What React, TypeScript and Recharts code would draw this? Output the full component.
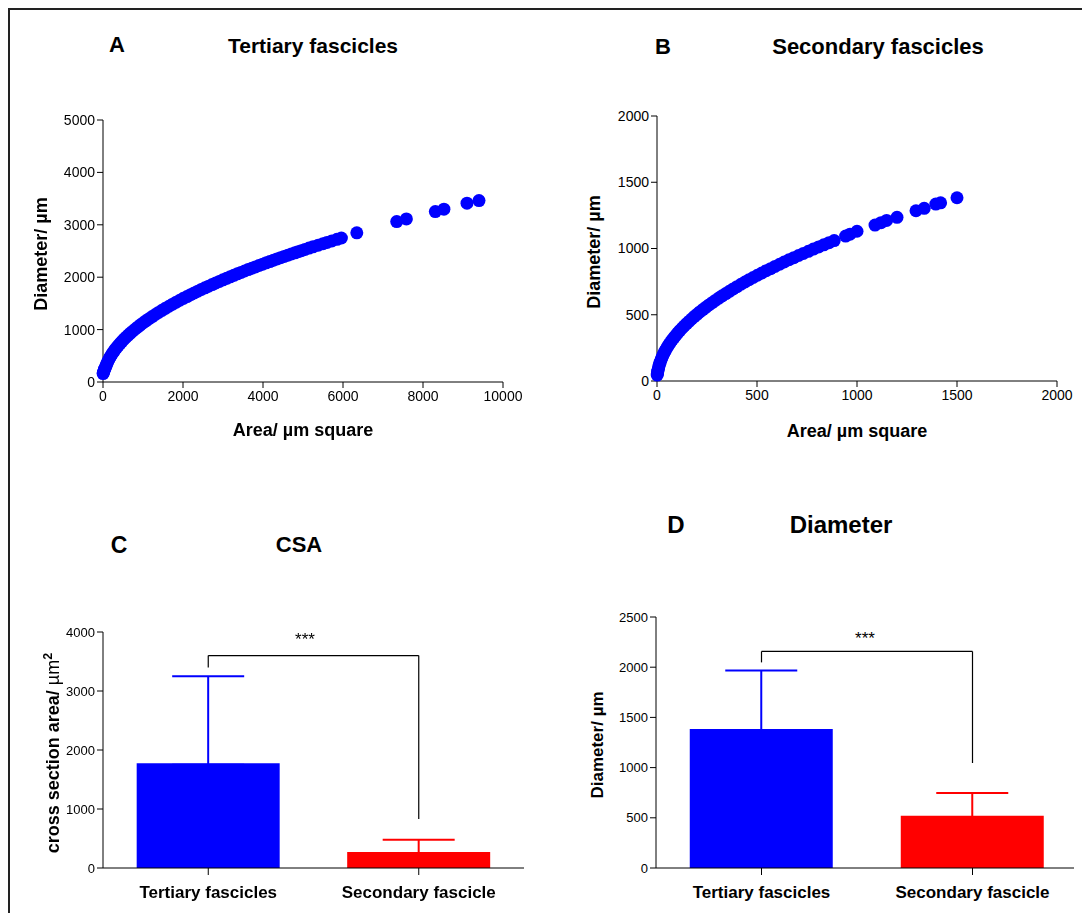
import React, { useEffect } from "react";
import { ScatterChart, Scatter, XAxis, YAxis, BarChart, Bar, Cell, ErrorBar, ReferenceLine } from "recharts";

// Panel A: tertiary fascicles (area vs diameter)
const tertiaryArea = [
  2, 8, 15, 25, 35, 50, 65, 80, 100, 120, 145, 170, 200, 230, 265, 300, 340, 380, 425, 470, 520, 570, 625, 680,
  740, 800, 865, 930, 1000, 1075, 1150, 1230, 1310, 1390, 1475, 1560, 1650, 1740, 1830, 1920, 2010, 2100, 2190,
  2280, 2370, 2460, 2550, 2640, 2730, 2820, 2910, 3000, 3090, 3180, 3270, 3360, 3450, 3540, 3630, 3720, 3810,
  3900, 3990, 4080, 4170, 4260, 4350, 4440, 4530, 4620, 4710, 4800, 4880, 4960, 5050, 5150, 5250, 5380, 5500,
  5600, 5720, 5850, 5960, 6345, 7343, 7585, 8308, 8523, 9100, 9400,
];
const tertiaryDiameter = [
  160, 175, 190, 215, 240, 262, 287, 318, 356, 390, 429, 464, 503, 540, 580, 617, 656, 694, 734, 772, 812, 850,
  890, 928, 968, 1007, 1047, 1086, 1126, 1167, 1207, 1249, 1288, 1327, 1367, 1406, 1446, 1485, 1523, 1560, 1596,
  1631, 1666, 1700, 1733, 1766, 1798, 1829, 1860, 1891, 1920, 1950, 1979, 2008, 2036, 2064, 2091, 2118, 2145,
  2171, 2197, 2223, 2249, 2274, 2299, 2324, 2348, 2372, 2396, 2420, 2443, 2466, 2487, 2507, 2530, 2555, 2579,
  2611, 2640, 2664, 2692, 2723, 2748, 2846, 3061, 3113, 3252, 3298, 3412, 3462,
];

// Panel B: secondary fascicles
const secondaryArea = [
  1, 2, 3, 4, 6, 8, 10, 13, 16, 20, 24, 29, 34, 40, 46, 53, 60, 68, 76, 85, 94, 104, 114, 125, 136, 148, 160, 173,
  186, 200, 214, 229, 244, 260, 276, 292, 309, 326, 344, 362, 381, 400, 420, 440, 460, 481, 502, 524, 546, 568,
  590, 613, 636, 660, 684, 708, 732, 757, 782, 808, 834, 860, 886, 943, 965, 1000, 1090, 1120, 1148, 1200, 1295,
  1336, 1394, 1418, 1500,
];
const secondaryDiameter = [
  45, 55, 65, 75, 87, 100, 113, 128, 142, 159, 174, 192, 208, 225, 241, 259, 276, 294, 310, 328, 345, 363, 380,
  398, 415, 433, 450, 468, 486, 503, 521, 539, 556, 574, 591, 608, 626, 643, 660, 677, 695, 712, 730, 747, 764,
  781, 798, 815, 832, 848, 865, 881, 898, 915, 931, 947, 963, 979, 996, 1012, 1028, 1044, 1060, 1094, 1108, 1130,
  1177, 1195, 1212, 1235, 1285, 1303, 1335, 1345, 1383,
];

const tertiaryXTicks = [0, 2000, 4000, 6000, 8000, 10000];
const tertiaryYTicks = [0, 1000, 2000, 3000, 4000, 5000];
const secondaryXTicks = [0, 500, 1000, 1500, 2000];
const secondaryYTicks = [0, 500, 1000, 1500, 2000];

// Panels C and D: mean + SD
const groups = ["Tertiary fascicles", "Secondary fascicle"];
const barColors = ["#0000FF", "#FF0000"];
const csaMean = [1775, 270];
const csaSd = [1476, 208];
const csaTicks = [0, 1000, 2000, 3000, 4000];
const csaBracket = [3600, 3400, 830]; // top, left leg end, right leg end
const diamMean = [1384, 521];
const diamSd = [584, 226];
const diamTicks = [0, 500, 1000, 1500, 2000, 2500];
const diamBracket = [2157, 2048, 1046];

const zip = (xs: number[], ys: number[]) => xs.map((area, i) => ({ area, diameter: ys[i] }));
const tertiaryData = zip(tertiaryArea, tertiaryDiameter);
const secondaryData = zip(secondaryArea, secondaryDiameter);

// the small lower bound keeps the lower cap of the whisker tucked inside the bar
const barData = (mean: number[], sd: number[], tuck: number) =>
  groups.map((name, i) => ({
    name,
    mean: mean[i],
    errBlue: i === 0 ? [tuck, sd[i]] : undefined,
    errRed: i === 1 ? [tuck, sd[i]] : undefined,
  }));
const csaData = barData(csaMean, csaSd, 25);
const diamData = barData(diamMean, diamSd, 15);

const Dot = (p: any) => <circle cx={p.cx} cy={p.cy} r={6.5} fill="#0000FF" />;

function Txt({ x, y, size, rotate, weight = 700, children }: any) {
  return (
    <div
      style={{
        position: "absolute", left: x, top: y, fontSize: size, fontWeight: weight, lineHeight: 1, whiteSpace: "nowrap",
        transform: `translate(-50%, -50%)${rotate ? " rotate(-90deg)" : ""}`,
      }}
    >
      {children}
    </div>
  );
}

function ScatterPanel({ data, xMax, yMax, xTicks, yTicks, width, height, left, right }: any) {
  return (
    <ScatterChart width={width} height={height} margin={{ top: 20, right, left, bottom: 5 }}>
      <XAxis type="number" dataKey="area" domain={[0, xMax]} ticks={xTicks} interval={0} height={30} tickSize={6} tickMargin={3}
        stroke="#000" tick={{ fill: "#000", fontSize: 14 }} />
      <YAxis type="number" dataKey="diameter" domain={[0, yMax]} ticks={yTicks} interval={0} width={60} tickSize={6} tickMargin={2}
        stroke="#000" tick={{ fill: "#000", fontSize: 14 }} />
      <Scatter data={data} shape={Dot} isAnimationActive={false} />
    </ScatterChart>
  );
}

function BarPanel({ data, yMax, ticks, bracket, width, height, top, left }: any) {
  const seg = (a: number, b: number, ya: number, yb: number) => (
    <ReferenceLine segment={[{ x: groups[a], y: ya }, { x: groups[b], y: yb }]} stroke="#000" strokeWidth={1.2} ifOverflow="visible" />
  );
  return (
    <BarChart width={width} height={height} data={data} margin={{ top, right: 2, left, bottom: 0 }} barCategoryGap="16%">
      <XAxis dataKey="name" height={36} tickSize={7} tickMargin={11} interval={0} stroke="#000"
        tick={{ fill: "#000", fontSize: 17, fontWeight: 700 }} />
      <YAxis domain={[0, yMax]} ticks={ticks} interval={0} width={60} tickSize={6} tickMargin={2} stroke="#000"
        tick={{ fill: "#000", fontSize: 13 }} />
      <Bar dataKey="mean" isAnimationActive={false}>
        {data.map((_: any, i: number) => <Cell key={i} fill={barColors[i]} />)}
        <ErrorBar dataKey="errBlue" direction="y" width={36} stroke={barColors[0]} strokeWidth={2} />
        <ErrorBar dataKey="errRed" direction="y" width={36} stroke={barColors[1]} strokeWidth={2} />
      </Bar>
      {seg(0, 1, bracket[0], bracket[0])}
      {seg(0, 0, bracket[0], bracket[1])}
      {seg(1, 1, bracket[0], bracket[2])}
    </BarChart>
  );
}

export default function App() {
  useEffect(() => {
    document.documentElement.style.overflow = "hidden";
    document.body.style.overflow = "hidden";
  }, []);
  return (
    <div style={{ position: "relative", width: 1066, height: 895, fontFamily: '"Liberation Sans", Arial, sans-serif', color: "#000" }}>
      <div style={{ position: "fixed", left: 8, top: 8, width: 1074, height: 2, background: "#222" }} />
      <div style={{ position: "fixed", left: 8, top: 8, width: 2, height: 905, background: "#222" }} />

      {/* A */}
      <div style={{ position: "absolute", left: 0, top: 92 }}>
        <ScatterPanel data={tertiaryData} xMax={10000} yMax={5000} xTicks={tertiaryXTicks} yTicks={tertiaryYTicks} width={530} height={317} left={35} right={35} />
      </div>
      <Txt x={109} y={37} size={22}>A</Txt>
      <Txt x={305} y={37} size={21}>Tertiary fascicles</Txt>
      <Txt x={33} y={246} size={18} rotate>Diameter/ µm</Txt>
      <Txt x={295} y={422} size={18}>Area/ µm square</Txt>

      {/* B */}
      <div style={{ position: "absolute", left: 552, top: 88 }}>
        <ScatterPanel data={secondaryData} xMax={2000} yMax={2000} xTicks={secondaryXTicks} yTicks={secondaryYTicks} width={522} height={320} left={37} right={25} />
      </div>
      <Txt x={655} y={39} size={22}>B</Txt>
      <Txt x={870} y={39} size={22}>Secondary fascicles</Txt>
      <Txt x={586} y={244} size={18} rotate>Diameter/ µm</Txt>
      <Txt x={849} y={423} size={18}>Area/ µm square</Txt>

      {/* C */}
      <div style={{ position: "absolute", left: 0, top: 603 }}>
        <BarPanel data={csaData} yMax={4000} ticks={csaTicks} bracket={csaBracket} width={518} height={293} top={21} left={35} />
      </div>
      <Txt x={111} y={537} size={23}>C</Txt>
      <Txt x={291} y={537} size={22}>CSA</Txt>
      <Txt x={297} y={631} size={17} weight={400}>***</Txt>
      <Txt x={44} y={745} size={18} rotate>
        cross section area/ <span style={{ fontWeight: 400 }}>µm</span><span style={{ fontSize: "0.7em", verticalAlign: "0.6em" }}>2</span>
      </Txt>

      {/* D */}
      <div style={{ position: "absolute", left: 552, top: 589 }}>
        <BarPanel data={diamData} yMax={2500} ticks={diamTicks} bracket={diamBracket} width={520} height={307} top={20} left={36} />
      </div>
      <Txt x={668} y={517} size={24}>D</Txt>
      <Txt x={833} y={517} size={24}>Diameter</Txt>
      <Txt x={857} y={630} size={17} weight={400}>***</Txt>
      <Txt x={589} y={737} size={17} rotate>Diameter/ µm</Txt>
    </div>
  );
}
